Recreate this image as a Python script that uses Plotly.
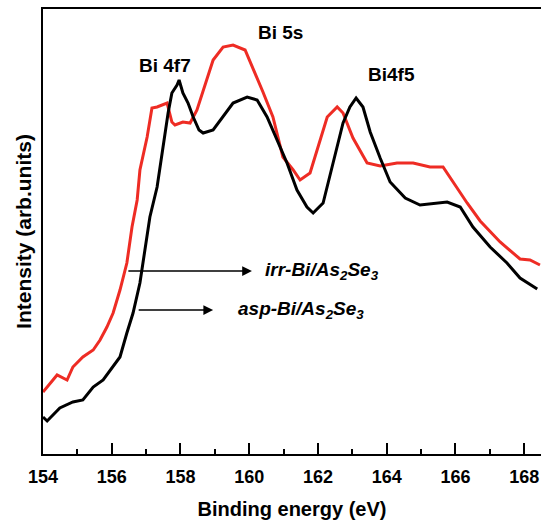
import plotly.graph_objects as go

# Binding energy (eV) and intensity (arb. units)
irr_x = [154.00, 154.20, 154.41, 154.70, 154.87, 155.16, 155.46, 155.66, 155.86, 156.04,
         156.24, 156.44, 156.59, 156.74, 156.82, 157.03, 157.17, 157.32, 157.61, 157.75,
         157.84, 158.07, 158.28, 158.48, 158.57, 158.66, 158.95, 159.24, 159.53, 159.88,
         160.11, 160.40, 160.69, 160.98, 161.28, 161.48, 161.77, 162.06, 162.27, 162.56,
         162.73, 163.02, 163.43, 163.81, 164.30, 164.77, 165.26, 165.64, 165.99, 166.34,
         166.72, 167.30, 167.88, 168.17, 168.46]
irr_y = [62, 70, 79, 74, 87, 97, 104, 114, 127, 141,
         164, 191, 227, 254, 284, 317, 346, 347, 351, 332,
         329, 332, 331, 344, 354, 364, 394, 407, 409, 404,
         386, 362, 337, 297, 284, 274, 281, 314, 337, 347,
         341, 316, 291, 288, 291, 291, 287, 287, 269, 251,
         233, 212, 195, 194, 189]

asp_x = [154.00, 154.12, 154.49, 154.87, 155.16, 155.46, 155.75, 156.04, 156.24, 156.44,
         156.62, 156.82, 156.97, 157.11, 157.32, 157.49, 157.64, 157.75, 157.90, 157.96,
         158.07, 158.22, 158.37, 158.54, 158.66, 158.95, 159.24, 159.53, 159.94, 160.23,
         160.52, 160.81, 161.10, 161.39, 161.68, 161.86, 162.15, 162.44, 162.73, 162.93,
         163.11, 163.31, 163.52, 163.81, 164.10, 164.54, 164.97, 165.76, 166.14, 166.51,
         167.01, 167.50, 167.88, 168.38]
asp_y = [37, 33, 46, 52, 54, 67, 74, 87, 97, 121,
         141, 171, 204, 237, 267, 307, 341, 361, 369, 374,
         361, 351, 337, 324, 321, 324, 337, 351, 357, 354,
         337, 314, 291, 264, 247, 241, 251, 291, 331, 347,
         356, 347, 322, 296, 272, 256, 249, 252, 247, 227,
         207, 191, 176, 165]

x_ticks = [154, 156, 158, 160, 162, 164, 166, 168]

peak_labels = ["Bi 4f7", "Bi 5s", "Bi4f5"]
peak_x = [157.55, 160.90, 164.13]
peak_y = [389, 422, 380]

FONT = "Arial, Liberation Sans"

fig = go.Figure()
fig.add_trace(go.Scatter(x=irr_x, y=irr_y, mode="lines",
                         line=dict(color="#ee2c24", width=3), showlegend=False))
fig.add_trace(go.Scatter(x=asp_x, y=asp_y, mode="lines",
                         line=dict(color="black", width=3), showlegend=False))

for t, x, y in zip(peak_labels, peak_x, peak_y):
    fig.add_annotation(x=x, y=y, text=f"<b>{t}</b>", showarrow=False,
                       font=dict(family=FONT, size=19, color="black"))

# arrows
arrows = [(156.44, 160.08, 183), (156.74, 158.95, 144)]
for x0, x1, y in arrows:
    fig.add_annotation(x=x1, y=y, ax=x0, ay=y, xref="x", yref="y", axref="x", ayref="y",
                       text="", showarrow=True, arrowhead=2, arrowsize=1.3, arrowwidth=1.5,
                       arrowcolor="black")

fig.add_annotation(x=160.40, y=183, text="<b><i>irr-Bi/As<sub>2</sub>Se<sub>3</sub></i></b>",
                   showarrow=False, xanchor="left", yanchor="middle",
                   font=dict(family=FONT, size=19, color="black"))
fig.add_annotation(x=159.62, y=144, text="<b><i>asp-Bi/As<sub>2</sub>Se<sub>3</sub></i></b>",
                   showarrow=False, xanchor="left", yanchor="middle",
                   font=dict(family=FONT, size=19, color="black"))

fig.update_layout(
    width=541, height=521,
    margin=dict(l=43, r=0, t=9, b=67),
    paper_bgcolor="white", plot_bgcolor="white",
    font=dict(family=FONT, color="black"),
    xaxis=dict(range=[154, 168.49], tickvals=x_ticks, ticktext=[f"<b>{v}</b>" for v in x_ticks],
               ticks="inside", ticklen=11, tickwidth=2, tickcolor="black",
               minor=dict(tickvals=[155, 157, 159, 161, 163, 165, 167], ticks="inside",
                          ticklen=5, tickwidth=2, tickcolor="black"),
               showline=True, linecolor="black", linewidth=2, mirror=True,
               showgrid=False, zeroline=False,
               tickfont=dict(size=18), ticklabelstandoff=5,
               title=dict(text="<b>Binding energy (eV)</b>", font=dict(size=20), standoff=16)),
    yaxis=dict(range=[0, 445], showticklabels=False, ticks="",
               showline=True, linecolor="black", linewidth=2,
               showgrid=False, zeroline=False,
               title=dict(text="<b>Intensity (arb.units)</b>", font=dict(size=21), standoff=4)),
)

fig.write_html("out.html")
